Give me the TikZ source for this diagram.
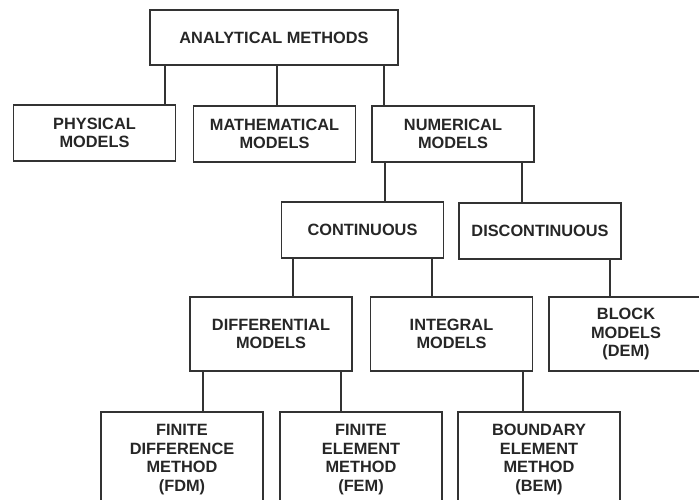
\documentclass[tikz,border=0pt]{standalone}
\usepackage{fontspec}
\setmainfont{Liberation Sans}
\usepackage{tikz}
\usetikzlibrary{positioning}

\begin{document}
\begin{tikzpicture}[
  every node/.style={font=\fontsize{9.3}{10.5}\selectfont\bfseries, text=black!85},
  box/.style={draw=black!80, line width=1.1pt, minimum width=3.24cm,
              minimum height=1.12cm, align=center, inner sep=2pt},
  link/.style={draw=black!80, line width=1.1pt}
]
\clip (0,0) rectangle (13.98,-10);

% ---- TOP ----
\node[box, minimum width=4.96cm, minimum height=1.10cm] (top) at (5.48,-0.75)
  {ANALYTICAL METHODS};

% ---- SECOND ROW ----
\node[box] (phys) at (1.89,-2.66) {PHYSICAL\\MODELS};
\node[box] (math) at (5.49,-2.68) {MATHEMATICAL\\MODELS};
\node[box] (num)  at (9.06,-2.68) {NUMERICAL\\MODELS};

% ---- THIRD ROW ----
\node[box] (cont)   at (7.25,-4.60) {CONTINUOUS};
\node[box] (discon) at (10.80,-4.62) {DISCONTINUOUS};

% ---- FOURTH ROW ----
\node[box, minimum height=1.48cm] (diff)  at (5.42,-6.68) {DIFFERENTIAL\\MODELS};
\node[box, minimum height=1.48cm] (integ) at (9.03,-6.68) {INTEGRAL\\MODELS};
\node[box, minimum height=1.48cm, minimum width=3.08cm] (block) at (12.52,-6.68)
  {BLOCK\\MODELS\\(DEM)};

% ---- BOTTOM ROW (cut by the page edge) ----
\node[box, anchor=north, minimum height=1.9cm] (fdm) at (3.64,-8.22)
  {FINITE\\DIFFERENCE\\METHOD\\(FDM)};
\node[box, anchor=north, minimum height=1.9cm] (fem) at (7.22,-8.22)
  {FINITE\\ELEMENT\\METHOD\\(FEM)};
\node[box, anchor=north, minimum height=1.9cm] (bem) at (10.78,-8.22)
  {BOUNDARY\\ELEMENT\\METHOD\\(BEM)};

% ---- CONNECTORS ----
\draw[link] ([xshift=-2.18cm]top.south) -- ([xshift=-2.18cm]top.south |- phys.north);
\draw[link] ([xshift=0.06cm]top.south) -- ([xshift=0.06cm]top.south |- math.north);
\draw[link] ([xshift=2.20cm]top.south) -- ([xshift=2.20cm]top.south |- num.north);

\draw[link] ([xshift=-1.36cm]num.south) -- ([xshift=-1.36cm]num.south |- cont.north);
\draw[link] ([xshift=1.38cm]num.south) -- ([xshift=1.38cm]num.south |- discon.north);

\draw[link] ([xshift=-1.39cm]cont.south) -- ([xshift=-1.39cm]cont.south |- diff.north);
\draw[link] ([xshift=1.39cm]cont.south) -- ([xshift=1.39cm]cont.south |- integ.north);
\draw[link] ([xshift=1.40cm]discon.south) -- ([xshift=1.40cm]discon.south |- block.north);

\draw[link] ([xshift=-1.36cm]diff.south) -- ([xshift=-1.36cm]diff.south |- fdm.north);
\draw[link] ([xshift=1.40cm]diff.south) -- ([xshift=1.40cm]diff.south |- fem.north);
\draw[link] ([xshift=1.43cm]integ.south) -- ([xshift=1.43cm]integ.south |- bem.north);

\end{tikzpicture}
\end{document}
